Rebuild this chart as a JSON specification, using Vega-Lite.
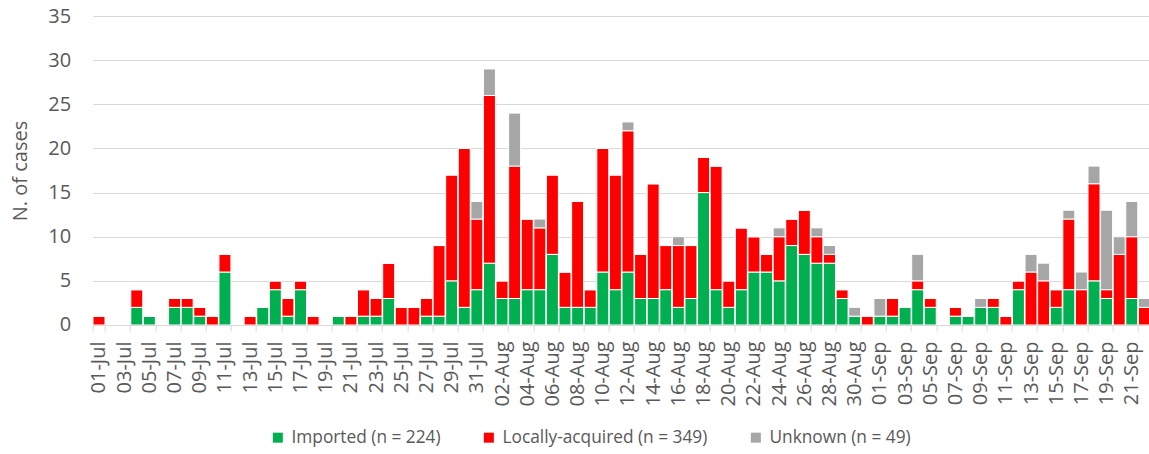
{
  "$schema": "https://vega.github.io/schema/vega-lite/v6.json",
  "width": 1058,
  "height": 309,
  "autosize": {"type": "none"},
  "padding": {"left": 92.7, "top": 16, "right": 0, "bottom": 129},
  "background": "white",
  "data": {"values": [
    {"d":"01-Jul","Imported":0,"Local":1,"Unknown":0},
    {"d":"02-Jul","Imported":0,"Local":0,"Unknown":0},
    {"d":"03-Jul","Imported":0,"Local":0,"Unknown":0},
    {"d":"04-Jul","Imported":2,"Local":2,"Unknown":0},
    {"d":"05-Jul","Imported":1,"Local":0,"Unknown":0},
    {"d":"06-Jul","Imported":0,"Local":0,"Unknown":0},
    {"d":"07-Jul","Imported":2,"Local":1,"Unknown":0},
    {"d":"08-Jul","Imported":2,"Local":1,"Unknown":0},
    {"d":"09-Jul","Imported":1,"Local":1,"Unknown":0},
    {"d":"10-Jul","Imported":0,"Local":1,"Unknown":0},
    {"d":"11-Jul","Imported":6,"Local":2,"Unknown":0},
    {"d":"12-Jul","Imported":0,"Local":0,"Unknown":0},
    {"d":"13-Jul","Imported":0,"Local":1,"Unknown":0},
    {"d":"14-Jul","Imported":2,"Local":0,"Unknown":0},
    {"d":"15-Jul","Imported":4,"Local":1,"Unknown":0},
    {"d":"16-Jul","Imported":1,"Local":2,"Unknown":0},
    {"d":"17-Jul","Imported":4,"Local":1,"Unknown":0},
    {"d":"18-Jul","Imported":0,"Local":1,"Unknown":0},
    {"d":"19-Jul","Imported":0,"Local":0,"Unknown":0},
    {"d":"20-Jul","Imported":1,"Local":0,"Unknown":0},
    {"d":"21-Jul","Imported":0,"Local":1,"Unknown":0},
    {"d":"22-Jul","Imported":1,"Local":3,"Unknown":0},
    {"d":"23-Jul","Imported":1,"Local":2,"Unknown":0},
    {"d":"24-Jul","Imported":3,"Local":4,"Unknown":0},
    {"d":"25-Jul","Imported":0,"Local":2,"Unknown":0},
    {"d":"26-Jul","Imported":0,"Local":2,"Unknown":0},
    {"d":"27-Jul","Imported":1,"Local":2,"Unknown":0},
    {"d":"28-Jul","Imported":1,"Local":8,"Unknown":0},
    {"d":"29-Jul","Imported":5,"Local":12,"Unknown":0},
    {"d":"30-Jul","Imported":2,"Local":18,"Unknown":0},
    {"d":"31-Jul","Imported":4,"Local":8,"Unknown":2},
    {"d":"01-Aug","Imported":7,"Local":19,"Unknown":3},
    {"d":"02-Aug","Imported":3,"Local":2,"Unknown":0},
    {"d":"03-Aug","Imported":3,"Local":15,"Unknown":6},
    {"d":"04-Aug","Imported":4,"Local":8,"Unknown":0},
    {"d":"05-Aug","Imported":4,"Local":7,"Unknown":1},
    {"d":"06-Aug","Imported":8,"Local":9,"Unknown":0},
    {"d":"07-Aug","Imported":2,"Local":4,"Unknown":0},
    {"d":"08-Aug","Imported":2,"Local":12,"Unknown":0},
    {"d":"09-Aug","Imported":2,"Local":2,"Unknown":0},
    {"d":"10-Aug","Imported":6,"Local":14,"Unknown":0},
    {"d":"11-Aug","Imported":4,"Local":13,"Unknown":0},
    {"d":"12-Aug","Imported":6,"Local":16,"Unknown":1},
    {"d":"13-Aug","Imported":3,"Local":5,"Unknown":0},
    {"d":"14-Aug","Imported":3,"Local":13,"Unknown":0},
    {"d":"15-Aug","Imported":4,"Local":5,"Unknown":0},
    {"d":"16-Aug","Imported":2,"Local":7,"Unknown":1},
    {"d":"17-Aug","Imported":3,"Local":6,"Unknown":0},
    {"d":"18-Aug","Imported":15,"Local":4,"Unknown":0},
    {"d":"19-Aug","Imported":4,"Local":14,"Unknown":0},
    {"d":"20-Aug","Imported":2,"Local":3,"Unknown":0},
    {"d":"21-Aug","Imported":4,"Local":7,"Unknown":0},
    {"d":"22-Aug","Imported":6,"Local":4,"Unknown":0},
    {"d":"23-Aug","Imported":6,"Local":2,"Unknown":0},
    {"d":"24-Aug","Imported":5,"Local":5,"Unknown":1},
    {"d":"25-Aug","Imported":9,"Local":3,"Unknown":0},
    {"d":"26-Aug","Imported":8,"Local":5,"Unknown":0},
    {"d":"27-Aug","Imported":7,"Local":3,"Unknown":1},
    {"d":"28-Aug","Imported":7,"Local":1,"Unknown":1},
    {"d":"29-Aug","Imported":3,"Local":1,"Unknown":0},
    {"d":"30-Aug","Imported":1,"Local":0,"Unknown":1},
    {"d":"31-Aug","Imported":0,"Local":1,"Unknown":0},
    {"d":"01-Sep","Imported":1,"Local":0,"Unknown":2},
    {"d":"02-Sep","Imported":1,"Local":2,"Unknown":0},
    {"d":"03-Sep","Imported":2,"Local":0,"Unknown":0},
    {"d":"04-Sep","Imported":4,"Local":1,"Unknown":3},
    {"d":"05-Sep","Imported":2,"Local":1,"Unknown":0},
    {"d":"06-Sep","Imported":0,"Local":0,"Unknown":0},
    {"d":"07-Sep","Imported":1,"Local":1,"Unknown":0},
    {"d":"08-Sep","Imported":1,"Local":0,"Unknown":0},
    {"d":"09-Sep","Imported":2,"Local":0,"Unknown":1},
    {"d":"10-Sep","Imported":2,"Local":1,"Unknown":0},
    {"d":"11-Sep","Imported":0,"Local":1,"Unknown":0},
    {"d":"12-Sep","Imported":4,"Local":1,"Unknown":0},
    {"d":"13-Sep","Imported":0,"Local":6,"Unknown":2},
    {"d":"14-Sep","Imported":0,"Local":5,"Unknown":2},
    {"d":"15-Sep","Imported":2,"Local":2,"Unknown":0},
    {"d":"16-Sep","Imported":4,"Local":8,"Unknown":1},
    {"d":"17-Sep","Imported":0,"Local":4,"Unknown":2},
    {"d":"18-Sep","Imported":5,"Local":11,"Unknown":2},
    {"d":"19-Sep","Imported":3,"Local":1,"Unknown":9},
    {"d":"20-Sep","Imported":0,"Local":8,"Unknown":2},
    {"d":"21-Sep","Imported":3,"Local":7,"Unknown":4},
    {"d":"22-Sep","Imported":0,"Local":2,"Unknown":1}
  ]},
  "transform": [
    {"fold": ["Imported", "Local", "Unknown"], "as": ["type", "cases"]}
  ],
  "mark": {"type": "bar", "stroke": "white", "strokeWidth": 1},
  "encoding": {
    "x": {
      "field": "d",
      "type": "ordinal",
      "sort": null,
      "scale": {"paddingInner": 0.05, "paddingOuter": 0.025},
      "axis": {
        "title": null,
        "values": ["01-Jul","03-Jul","05-Jul","07-Jul","09-Jul","11-Jul","13-Jul","15-Jul","17-Jul","19-Jul","21-Jul","23-Jul","25-Jul","27-Jul","29-Jul","31-Jul","02-Aug","04-Aug","06-Aug","08-Aug","10-Aug","12-Aug","14-Aug","16-Aug","18-Aug","20-Aug","22-Aug","24-Aug","26-Aug","28-Aug","30-Aug","01-Sep","03-Sep","05-Sep","07-Sep","09-Sep","11-Sep","13-Sep","15-Sep","17-Sep","19-Sep","21-Sep"],
        "labelAngle": -90,
        "labelFont": "Open Sans",
        "labelFontSize": 20,
        "labelColor": "#595959",
        "labelPadding": 10,
        "tickBand": "extent",
        "tickSize": 6,
        "tickColor": "#d9d9d9",
        "domainColor": "#d9d9d9",
        "domainWidth": 1,
        "grid": false,
        "zindex": 1
      }
    },
    "y": {
      "field": "cases",
      "type": "quantitative",
      "stack": "zero",
      "scale": {"domain": [0, 35], "nice": false},
      "axis": {
        "title": "N. of cases",
        "titleFont": "Open Sans",
        "titleFontSize": 20,
        "titleFontWeight": "normal",
        "titleColor": "#595959",
        "titlePadding": 17,
        "values": [0, 5, 10, 15, 20, 25, 30, 35],
        "labelFont": "Open Sans",
        "labelFontSize": 20,
        "labelColor": "#595959",
        "labelPadding": 22,
        "ticks": false,
        "domain": false,
        "grid": true,
        "gridColor": "#d9d9d9",
        "gridWidth": 1
      }
    },
    "color": {
      "field": "type",
      "type": "nominal",
      "scale": {"domain": ["Imported", "Local", "Unknown"], "range": ["#00B050", "#FF0000", "#A6A6A6"]},
      "legend": {
        "title": null,
        "orient": "none",
        "direction": "horizontal",
        "legendX": 176.5,
        "legendY": 413,
        "symbolType": "square",
        "symbolSize": 100,
        "symbolStrokeWidth": 0,
        "labelFont": "Open Sans",
        "labelFontSize": 17.3,
        "labelColor": "#595959",
        "labelOffset": 5,
        "columnPadding": 39,
        "labelLimit": 400,
        "labelExpr": "datum.label == 'Imported' ? 'Imported (n = 224)' : datum.label == 'Local' ? 'Locally-acquired (n = 349)' : 'Unknown (n = 49)'"
      }
    },
    "order": {"field": "type", "sort": "ascending"}
  },
  "config": {"view": {"stroke": null}}
}
